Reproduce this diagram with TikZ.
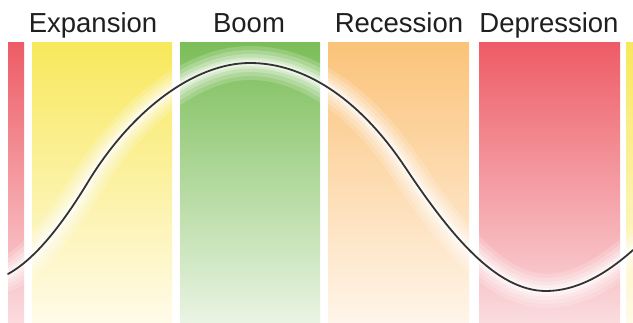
\documentclass[tikz,border=0pt]{standalone}
\usepackage{fontspec}
\setmainfont{Liberation Sans}
\begin{document}
\begin{tikzpicture}[x=1pt,y=-1pt,
  lbl/.style={anchor=base,inner sep=0pt,text=black!88,font=\fontsize{27.5}{30}\selectfont},
  curveline/.style={draw=black!80,line width=1.8pt,line cap=round},
  halo/.style={draw=white,line cap=round}]
\definecolor{ytop}{HTML}{F8E85C}\definecolor{ybot}{HTML}{FFFBEA}
\definecolor{gtop}{HTML}{7BBE58}\definecolor{gbot}{HTML}{EAF4E4}
\definecolor{otop}{HTML}{FBC37A}\definecolor{obot}{HTML}{FFF5EA}
\definecolor{rtop}{HTML}{EE5C66}\definecolor{rbot}{HTML}{FADCDF}
\useasboundingbox[fill=white] (0,0) rectangle (633,323);
% bars
\shade[top color=rtop,bottom color=rbot] (8,43) rectangle (24,323);
\shade[top color=ytop,bottom color=ybot] (32,43) rectangle (172,323);
\shade[top color=gtop,bottom color=gbot] (180,43) rectangle (320,323);
\shade[top color=otop,bottom color=obot] (328,43) rectangle (469,323);
\shade[top color=rtop,bottom color=rbot] (479,43) rectangle (620,323);
\shade[top color=ytop,bottom color=ybot] (626,43) rectangle (633,323);
% labels
\node[lbl] (exp) at (93,33) {Expansion};
\node[lbl] (boom) at (249,33) {Boom};
\node[lbl] (rec) at (399,33) {Recession};
\node[lbl] (dep) at (549,33) {Depression};
% curve
\coordinate (c0) at (8,274);
\coordinate (c1) at (88,182);
\coordinate (c2) at (250,63);
\coordinate (c3) at (405,167);
\coordinate (c4) at (546,291);
\coordinate (c5) at (633,250);
\def\cyclepath{(c0) .. controls (34.7,259.3) and (61.3,226) .. (c1)
  .. controls (133,108) and (196,63) .. (c2)
  .. controls (305,63) and (360,99.5) .. (c3)
  .. controls (450,234.5) and (496,291) .. (c4)
  .. controls (575,291) and (604,276) .. (c5)}
\begin{scope}
\clip (0,43) rectangle (633,323);
\foreach \w/\o in {34/0.18,26/0.2,18/0.25,11/0.35,6/0.5}{
  \draw[halo,line width=\w pt,opacity=\o] \cyclepath;
}
\end{scope}
\draw[curveline] \cyclepath;
\end{tikzpicture}
\end{document}
